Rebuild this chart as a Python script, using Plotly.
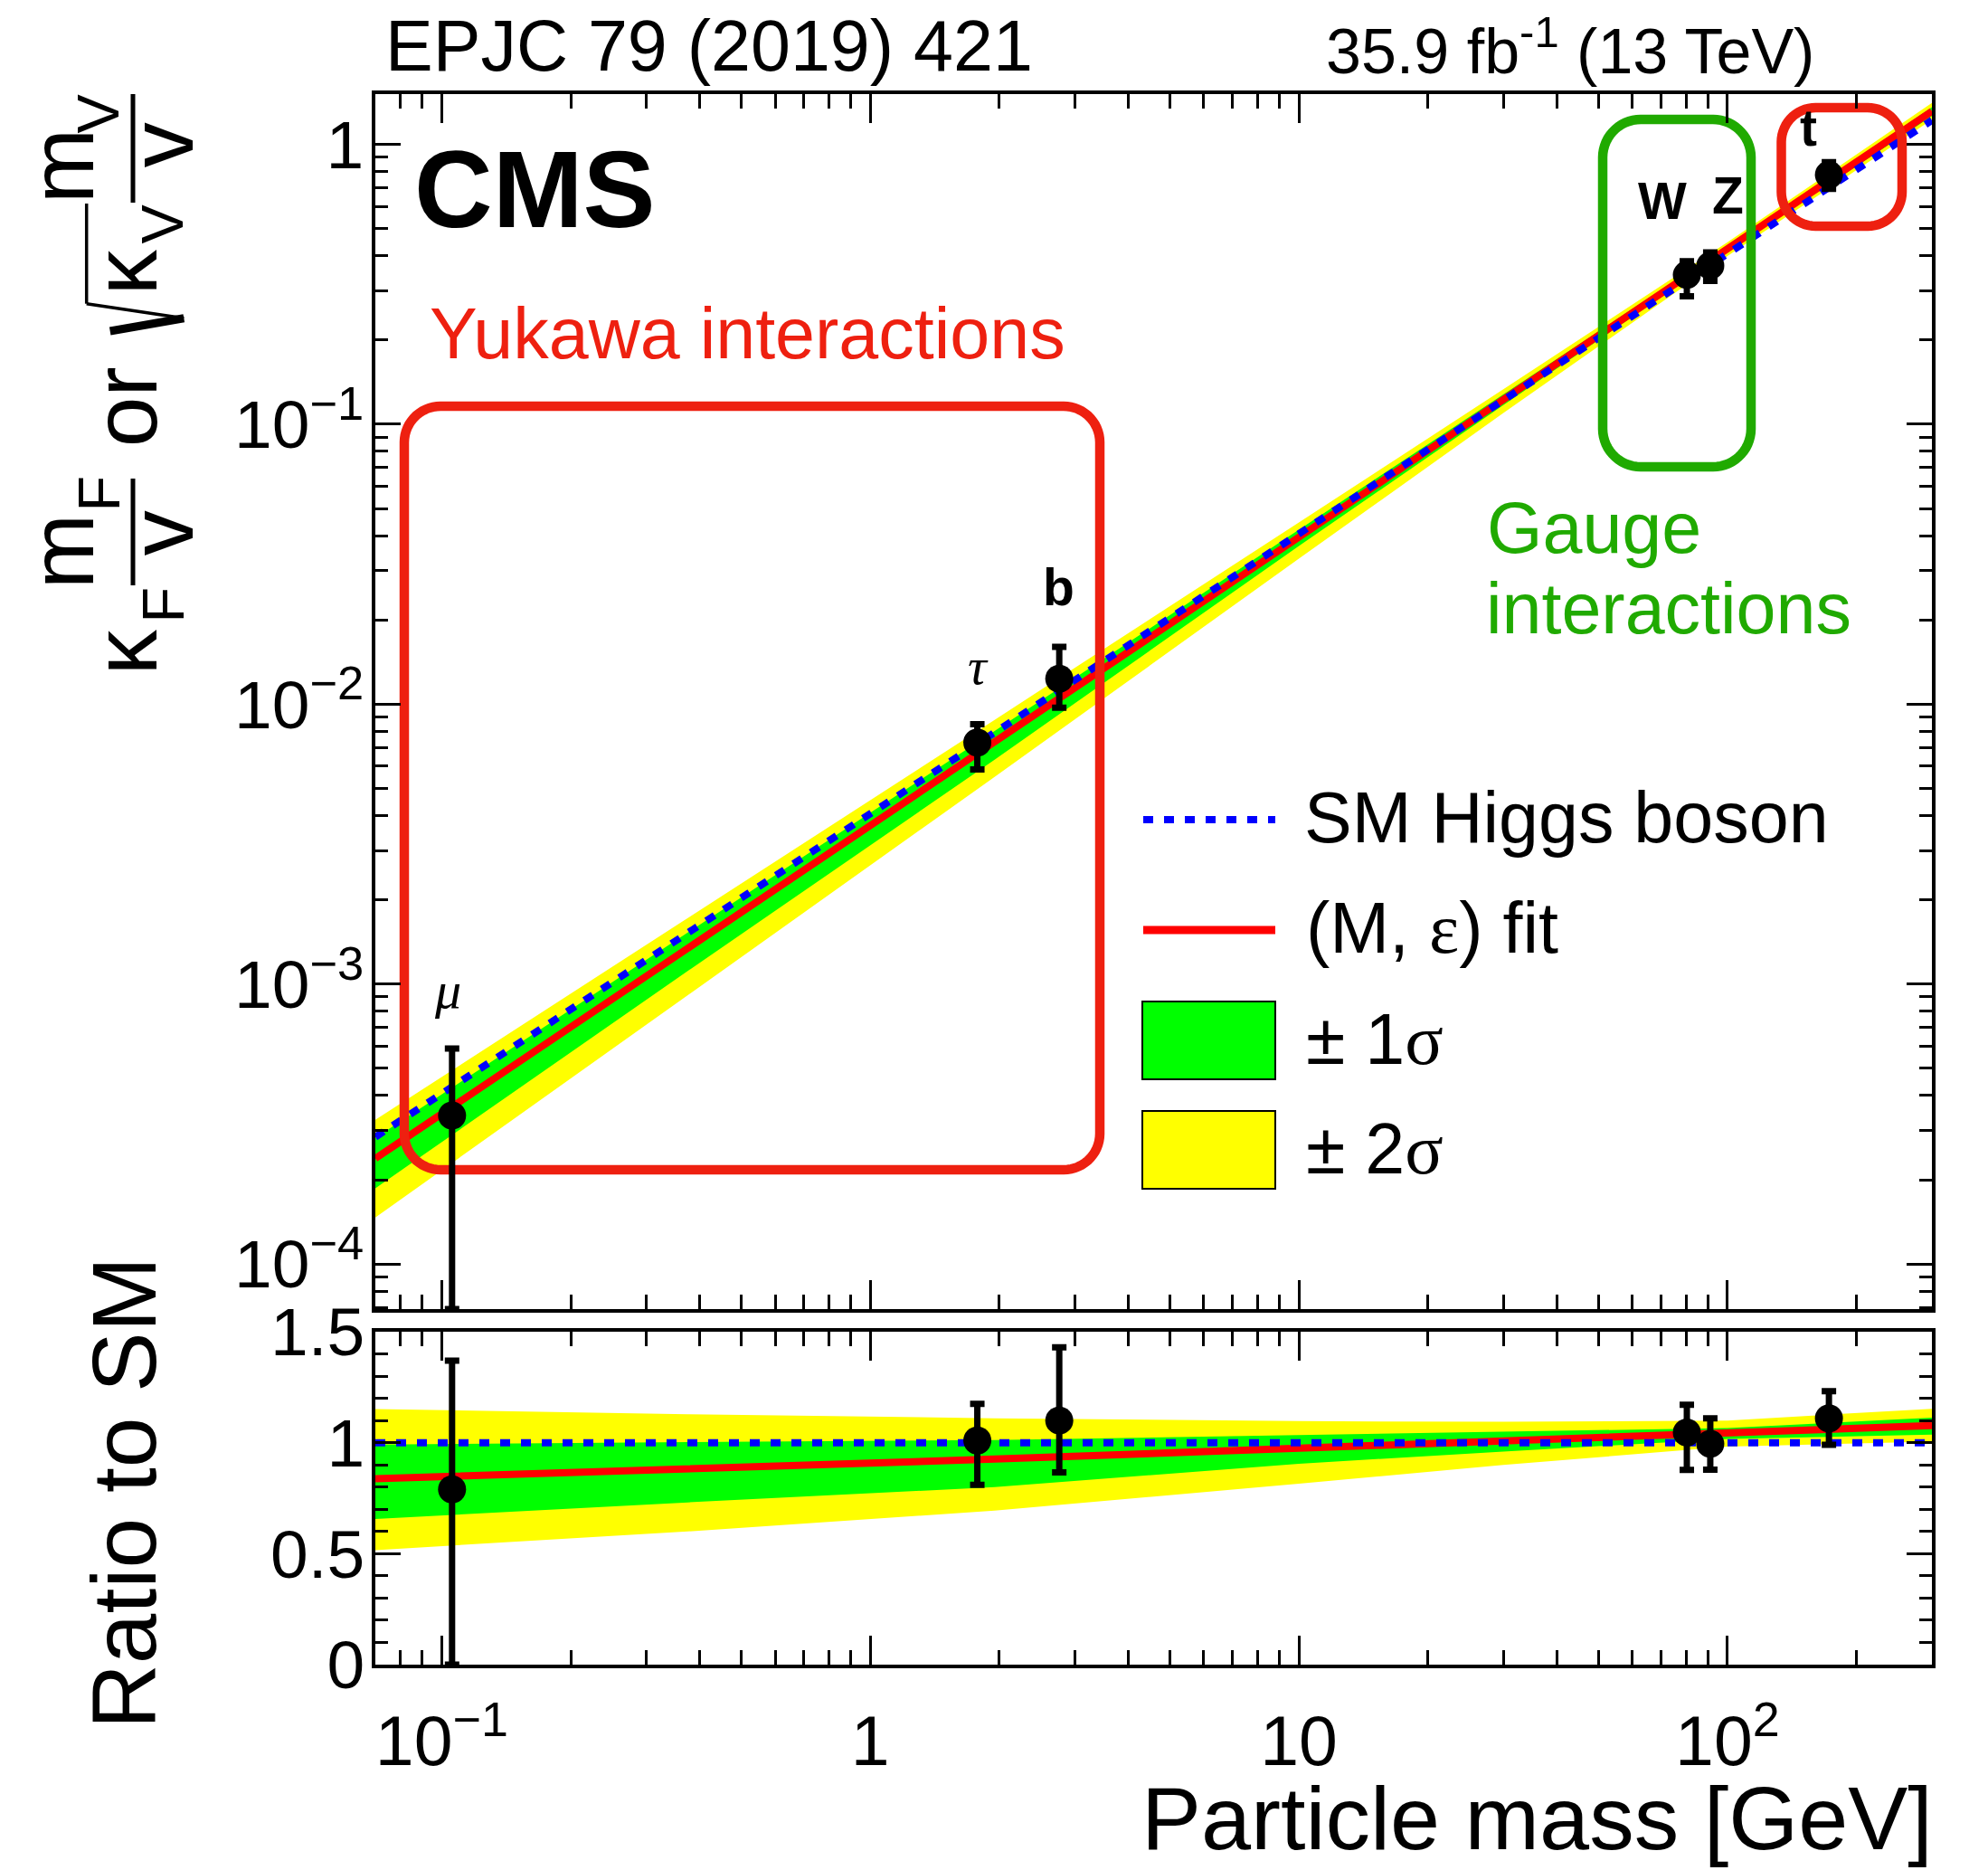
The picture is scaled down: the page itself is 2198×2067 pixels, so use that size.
import numpy as np
import plotly.graph_objects as go

VEV = 246.22  # Higgs vacuum expectation value [GeV]

# Measured particles: mass [GeV] and coupling-modifier ratio to the SM expectation
particles = ["μ", "τ", "b", "W", "Z", "t"]
mass = [0.1057, 1.777, 2.76, 80.4, 91.19, 172.5]
ratio = [0.79, 1.01, 1.10, 1.046, 0.995, 1.11]
ratio_hi = [1.37, 1.175, 1.43, 1.171, 1.11, 1.232]
ratio_lo = [0.0, 0.81, 0.866, 0.877, 0.878, 0.99]

# (M, epsilon) fit and its 1 and 2 sigma bands, as ratio to SM
band_mass = [0.07, 0.375, 1.95, 10, 30, 100, 300]
fit_ratio = [0.838, 0.880, 0.926, 0.975, 1.006, 1.043, 1.077]
sig1_hi = [0.992, 1.003, 1.012, 1.036, 1.050, 1.066, 1.113]
sig1_lo = [0.656, 0.731, 0.800, 0.905, 0.960, 1.017, 1.036]
sig2_hi = [1.152, 1.128, 1.110, 1.097, 1.094, 1.100, 1.153]
sig2_lo = [0.516, 0.600, 0.694, 0.815, 0.900, 0.982, 1.005]

# SM Higgs boson prediction spans the full mass axis
sm_mass = [0.07, 300]
sm_ratio = [1.0, 1.0]

# Tick labels
x_tickvals = [0.1, 1, 10, 100]
x_ticktext = ["10<sup>−1</sup>", "1", "10", "10<sup>2</sup>"]
y_tickvals = [1e-4, 1e-3, 1e-2, 1e-1, 1]
y_ticktext = ["10<sup>−4</sup>", "10<sup>−3</sup>", "10<sup>−2</sup>", "10<sup>−1</sup>", "1"]
r_tickvals = [0, 0.5, 1, 1.5]
r_ticktext = ["0", "0.5", "1", "1.5"]

# ---------------------------------------------------------------- geometry
W, H = 2198, 2067
PX_L, PX_R, PX_T, PX_B = 415, 2136, 104, 1840      # full plotting area
TOP_BOTTOM, LOW_TOP = 1447, 1472                   # panel edges
X_RANGE = [np.log10(0.07), np.log10(300)]
Y_RANGE = [-4.161, 0.1794]
R_RANGE = [0, 1.5]

FONT = "Liberation Sans, Arial, Helvetica, sans-serif"
SERIF = "Liberation Serif, Times New Roman, serif"
RED_BOX = "#EE2010"
GREEN_BOX = "#20AA00"


def px(x):
    return (x - PX_L) / (PX_R - PX_L)


def py(y):
    return (PX_B - y) / (PX_B - PX_T)


def pix_to_top(xp, yp):
    """Convert pixel position inside the upper panel into data coordinates."""
    lx = X_RANGE[0] + (xp - PX_L) / (PX_R - PX_L) * (X_RANGE[1] - X_RANGE[0])
    ly = Y_RANGE[1] - (yp - PX_T) / (TOP_BOTTOM - PX_T) * (Y_RANGE[1] - Y_RANGE[0])
    return 10 ** lx, 10 ** ly


def rounded_box(x0, y0, x1, y1, r, n=16):
    pts = [((x0 + x1) / 2, y0)]
    corners = [(x1 - r, y0 + r, -90, 0), (x1 - r, y1 - r, 0, 90),
               (x0 + r, y1 - r, 90, 180), (x0 + r, y0 + r, 180, 270)]
    for cx, cy, a0, a1 in corners:
        for a in np.linspace(np.radians(a0), np.radians(a1), n):
            pts.append((cx + r * np.cos(a), cy + r * np.sin(a)))
    pts.append(((x0 + x1) / 2, y0))
    xs, ys = zip(*[pix_to_top(a, b) for a, b in pts])
    return list(xs), list(ys)


fig = go.Figure()

top_scale = [m / VEV for m in band_mass]
one_scale = [1.0 for _ in band_mass]


def add_band(lo, hi, color, scale, xa, ya):
    xs = band_mass + band_mass[::-1]
    ys = [l * s for l, s in zip(lo, scale)] + [h * s for h, s in zip(hi, scale)][::-1]
    fig.add_trace(go.Scatter(x=xs, y=ys, fill="toself", fillcolor=color, mode="lines",
                             line=dict(width=0, color=color), hoverinfo="skip",
                             xaxis=xa, yaxis=ya))


for scale, xa, ya in [(top_scale, "x", "y"), (one_scale, "x2", "y2")]:
    add_band(sig2_lo, sig2_hi, "#FFFF00", scale, xa, ya)
    add_band(sig1_lo, sig1_hi, "#00FF00", scale, xa, ya)
    fig.add_trace(go.Scatter(x=band_mass, y=[f * s for f, s in zip(fit_ratio, scale)],
                             mode="lines", line=dict(color="#FF0000", width=8),
                             hoverinfo="skip", xaxis=xa, yaxis=ya))
    if xa == "x":
        sm_y = [m / VEV * r for m, r in zip(sm_mass, sm_ratio)]
    else:
        sm_y = sm_ratio
    fig.add_trace(go.Scatter(x=sm_mass, y=sm_y, mode="lines",
                             line=dict(color="#0000FF", width=8, dash="11px,12px"),
                             hoverinfo="skip", xaxis=xa, yaxis=ya))

# Rounded boxes grouping Yukawa and gauge interactions
for (bx0, by0, bx1, by1, rad, col) in [(447, 449, 1216, 1293, 40, RED_BOX),
                                        (1772, 132, 1936, 516, 42, GREEN_BOX),
                                        (1969.5, 119, 2103, 250, 38, RED_BOX)]:
    bxs, bys = rounded_box(bx0, by0, bx1, by1, rad)
    fig.add_trace(go.Scatter(x=bxs, y=bys, mode="lines",
                             line=dict(color=col, width=10.5, simplify=False),
                             hoverinfo="skip", xaxis="x", yaxis="y"))

# Measurements
y_floor = 10 ** Y_RANGE[0]
top_y = [r * m / VEV for r, m in zip(ratio, mass)]
top_hi = [h * m / VEV for h, m in zip(ratio_hi, mass)]
top_lo = [max(l * m / VEV, y_floor) for l, m in zip(ratio_lo, mass)]
fig.add_trace(go.Scatter(
    x=mass, y=top_y, mode="markers", marker=dict(color="black", size=31),
    error_y=dict(type="data", symmetric=False,
                 array=[h - y for h, y in zip(top_hi, top_y)],
                 arrayminus=[y - l for y, l in zip(top_y, top_lo)],
                 color="black", thickness=7, width=8),
    text=particles, hoverinfo="text+x+y", xaxis="x", yaxis="y"))
fig.add_trace(go.Scatter(
    x=mass, y=ratio, mode="markers", marker=dict(color="black", size=31),
    error_y=dict(type="data", symmetric=False,
                 array=[h - r for h, r in zip(ratio_hi, ratio)],
                 arrayminus=[r - l for r, l in zip(ratio, ratio_lo)],
                 color="black", thickness=7, width=8),
    text=particles, hoverinfo="text+x+y", xaxis="x2", yaxis="y2"))

# ---------------------------------------------------------------- axes
x_minor = [k * 10.0 ** d for d in range(-2, 3) for k in range(2, 10)
           if 0.07 <= k * 10.0 ** d <= 300]
y_minor = [k * 10.0 ** d for d in range(-5, 1) for k in range(2, 10)
           if 10 ** Y_RANGE[0] <= k * 10.0 ** d <= 10 ** Y_RANGE[1]]

frame = dict(showgrid=False, zeroline=False, showline=True, linecolor="black",
             linewidth=3.5, mirror="allticks", ticks="inside", tickwidth=3,
             tickcolor="black", tickfont=dict(family=FONT, size=75, color="black"))
xcommon = dict(frame, type="log", range=X_RANGE, ticklen=32, tickmode="array",
               tickvals=x_tickvals, ticktext=x_ticktext,
               minor=dict(tickmode="array", tickvals=x_minor, ticks="inside", ticklen=16,
                          tickwidth=3, tickcolor="black", showgrid=False))

top_dom = [(PX_B - TOP_BOTTOM) / (PX_B - PX_T), 1]
low_dom = [0, (PX_B - LOW_TOP) / (PX_B - PX_T)]

fig.update_layout(
    width=W, height=H,
    margin=dict(l=PX_L, r=W - PX_R, t=PX_T, b=H - PX_B, pad=0),
    paper_bgcolor="white", plot_bgcolor="white", showlegend=False,
    font=dict(family=FONT, color="black"),
    xaxis=dict(xcommon, domain=[0, 1], anchor="y", showticklabels=False),
    xaxis2=dict(xcommon, domain=[0, 1], anchor="y2", matches="x", showticklabels=True,
                tickfont=dict(family=FONT, size=77, color="black"), ticklabelstandoff=15),
    yaxis=dict(frame, type="log", range=Y_RANGE, domain=top_dom, anchor="x", ticklen=28,
               tickmode="array", tickvals=y_tickvals, ticktext=y_ticktext,
               ticklabelstandoff=-6,
               minor=dict(tickmode="array", tickvals=y_minor, ticks="inside", ticklen=14,
                          tickwidth=3, tickcolor="black", showgrid=False)),
    yaxis2=dict(frame, range=R_RANGE, domain=low_dom, anchor="x2", ticklen=28,
                tickmode="array", tickvals=r_tickvals, ticktext=r_ticktext,
                ticklabelstandoff=-7,
                minor=dict(dtick=0.1, ticks="inside", ticklen=14, tickwidth=3,
                           tickcolor="black", showgrid=False)),
)

# ---------------------------------------------------------------- text
ann = []


def htext(text, x, base, size, anchor="left", color="black", family=FONT):
    ann.append(dict(text=text, x=px(x), y=py(base + 0.212 * size), xref="paper", yref="paper",
                    xanchor=anchor, yanchor="bottom", showarrow=False, borderpad=0,
                    font=dict(size=size, color=color, family=family)))


def rtext(text, base_x, cy, size, family=FONT):
    ann.append(dict(text=text, x=px(base_x - 0.3465 * size), y=py(cy), xref="paper",
                    yref="paper", xanchor="center", yanchor="middle", textangle=-90,
                    showarrow=False, borderpad=0,
                    font=dict(size=size, color="black", family=family)))


htext("EPJC 79 (2019) 421", 425, 79, 79)
htext("35.9 fb<sup>-1</sup> (13 TeV)", 1465, 82, 70)
htext("<b>CMS</b>", 457, 252, 120)
htext("Yukawa interactions", 474, 397, 79, color=RED_BOX)
htext("Gauge", 1643, 612, 79, color=GREEN_BOX)
htext("interactions", 1642, 701, 79, color=GREEN_BOX)

# particle labels
htext("<b>W</b>", 1838, 243, 57, anchor="center")
htext("<b>Z</b>", 1910, 237, 57, anchor="center")
htext("<b>t</b>", 1999, 162, 57, anchor="center")
htext("<b>b</b>", 1170, 670, 57, anchor="center")
htext("<i>τ</i>", 1081, 758, 58, anchor="center", family=SERIF)
htext("<i>μ</i>", 495, 1116, 58, anchor="center", family=SERIF)

# legend
sig = '<span style="font-family:Liberation Serif, Times New Roman, serif">%s</span>'
htext("SM Higgs boson", 1441, 932, 79)
htext("(M, " + sig % "ε" + ") fit", 1443, 1054, 79)
htext("± 1" + sig % "σ", 1443, 1177, 79)
htext("± 2" + sig % "σ", 1443, 1298, 79)

# axis titles
htext("Particle mass [GeV]", 2138, 2045, 99, anchor="right")
rtext("Ratio to SM", 172, 1650, 100)
rtext("κ", 173, 721, 100)
rtext("F", 203, 668, 65)
rtext("m", 103, 610, 100)
rtext("F", 132, 545, 65)
rtext("v", 213, 589, 100)
rtext("or", 173, 450, 100)
rtext("κ", 173, 301, 100)
rtext("V", 203, 247, 65)
rtext("m", 103, 184, 100)
rtext("V", 132, 125, 65)
rtext("v", 213, 160, 100)

fig.update_layout(annotations=ann)

shapes = []


def pline(x0, y0, x1, y1, width, color="black", dash=None):
    d = dict(type="line", xref="paper", yref="paper", x0=px(x0), y0=py(y0),
             x1=px(x1), y1=py(y1), line=dict(color=color, width=width))
    if dash:
        d["line"]["dash"] = dash
    shapes.append(d)


# fraction bars and radical of the y-axis title
pline(147, 529, 147, 647, 5)
pline(147, 104, 147, 224, 5)
pline(121.7, 366, 203.3, 351.7, 9)
pline(203.3, 351.7, 95.7, 335.7, 3.5)
pline(95.7, 335.7, 95.7, 225, 3.5)

# legend samples
pline(1264, 906, 1410, 906, 8, color="#0000FF", dash="11px,12px")
pline(1264, 1028, 1410, 1028, 9, color="#FF0000")
for (ty, by, col) in [(1107, 1193, "#00FF00"), (1228, 1314, "#FFFF00")]:
    shapes.append(dict(type="rect", xref="paper", yref="paper", x0=px(1263), x1=px(1410),
                       y0=py(by), y1=py(ty), fillcolor=col,
                       line=dict(color="black", width=2)))

fig.update_layout(shapes=shapes)

fig.write_html("out.html")
